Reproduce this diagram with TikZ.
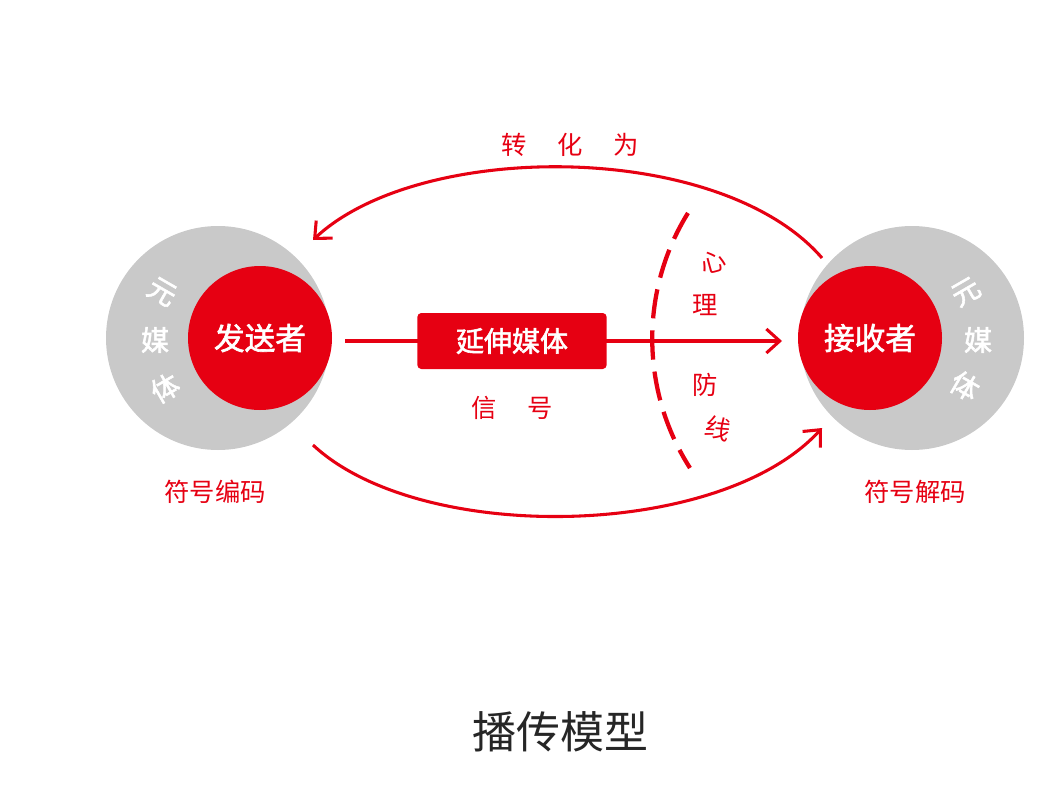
\documentclass[tikz,border=0pt]{standalone}
\usepackage{fontspec}
\newfontfamily\cjk{Noto Sans CJK SC}
\newfontfamily\cjkb{Noto Sans CJK SC}[FakeBold=2]
\usetikzlibrary{arrows.meta}
\definecolor{rd}{HTML}{E60012}
\definecolor{gr}{HTML}{C9C9C9}
\begin{document}
\begin{tikzpicture}[x=0.75pt,y=-0.75pt,
  lbl/.style={text=rd,font=\cjk\fontsize{19}{19}\selectfont},
  wlbl/.style={text=white,font=\cjkb\fontsize{21}{21}\selectfont},
  conn/.style={draw=rd,line width=2.3pt,-{Straight Barb[length=10pt,width=18pt,line width=2.3pt]}}]
\useasboundingbox (0,0) rectangle (1040,800);
% left
\fill[gr] (218,338) circle (112);
\node[circle,fill=rd,minimum size=108pt,inner sep=0] (snd) at (260,338) {};
\node[wlbl,font=\cjkb\fontsize{23}{23}\selectfont] at (260,338) {发送者};
\node[wlbl,rotate=-30] (l1) at (162,292) {元};
\node[wlbl] (l2) at (155,340) {媒};
\node[wlbl,rotate=30] (l3) at (165,388) {体};
% right
\fill[gr] (912,338) circle (112);
\node[circle,fill=rd,minimum size=108pt,inner sep=0] (rcv) at (870,338) {};
\node[wlbl,font=\cjkb\fontsize{23}{23}\selectfont] at (870,338) {接收者};
\node[wlbl,rotate=30] (r1) at (966,292) {元};
\node[wlbl] (r2) at (978,340) {媒};
\node[wlbl,rotate=-30] (r3) at (965,386) {体};
% center
\coordinate (a0) at (345,341);
\coordinate (a1) at (782,341);
\draw[conn] (a0) -- (a1);
\node[fill=rd,rounded corners=3pt,minimum width=142pt,minimum height=42pt,wlbl] (med) at (512,341) {延伸媒体};
\node[lbl] (sig) at (512,408) {信\hspace{1.2em}号};
% arcs
\coordinate (t0) at (822,258); \coordinate (t1) at (313,240);
\draw[conn] (t0) .. controls (720,140) and (420,140) .. (t1);
\coordinate (b0) at (313,445); \coordinate (b1) at (822,428);
\draw[conn] (b0) .. controls (420,545) and (720,540) .. (b1);
\node[lbl] (top) at (570,145) {转\hspace{1.2em}化\hspace{1.2em}为};
% dashed defence line
\coordinate (d0) at (688,213); \coordinate (d1) at (690,468);
\draw[rd,line width=3.2pt,dash pattern=on 22pt off 9pt] (d0) .. controls (640,290) and (640,390) .. (d1);
\node[lbl,rotate=15] (x1) at (713,262) {心};
\node[lbl] (x2) at (705,305) {理};
\node[lbl] (x3) at (705,385) {防};
\node[lbl,rotate=-15] (x4) at (718,428) {线};
\node[lbl] (enc) at (215,492) {符号编码};
\node[lbl] (dec) at (915,492) {符号解码};
\node[font=\cjk\fontsize{33}{33}\selectfont,text=black!85] (title) at (560,732) {播传模型};
\end{tikzpicture}
\end{document}
